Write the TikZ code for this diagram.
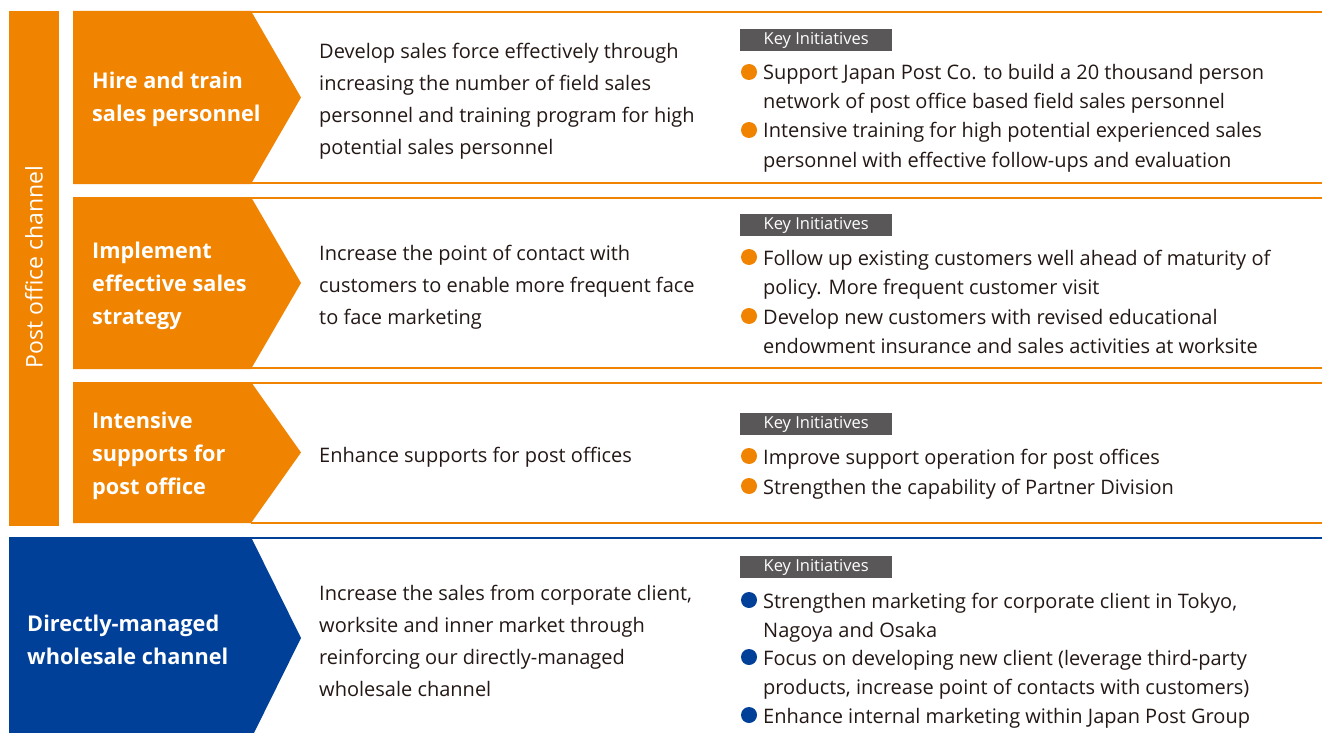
\documentclass[tikz,border=0pt]{standalone}
\usepackage{fontspec}
\setmainfont{Open Sans}
\definecolor{jporange}{HTML}{F08300}
\definecolor{jpblue}{HTML}{004098}
\definecolor{keygrey}{HTML}{595757}
\definecolor{ink}{HTML}{231815}

\begin{document}
% multi-line nodes are placed by the baseline of their last line
\begin{tikzpicture}[x=1pt,y=-1pt,
  title/.style={text=white, font=\bfseries\fontsize{21.7}{33}\selectfont, align=left, anchor=base west, inner sep=0},
  desc/.style={text=ink, font=\fontsize{20}{32}\selectfont, align=left, anchor=base west, inner sep=0},
  item/.style={text=ink, font=\fontsize{20}{29}\selectfont, align=left, anchor=base west, inner sep=0},
  keylab/.style={fill=keygrey, text=white, font=\fontsize{16.5}{16.5}\selectfont, minimum width=152pt, minimum height=21.5pt, inner sep=0, anchor=north west},
  odot/.style={circle, fill=jporange, minimum size=16pt, inner sep=0},
  bdot/.style={circle, fill=jpblue, minimum size=16pt, inner sep=0},
  orule/.style={draw=jporange, line width=2pt},
  brule/.style={draw=jpblue, line width=2.5pt}]
\useasboundingbox (0,0) rectangle (1322,733);

% ---- post office channel side bar
\fill[jporange] (9,11) rectangle (59,526);
\node[text=white, font=\fontsize{23}{26}\selectfont, rotate=90, inner sep=0] (channel) at (34,267) {Post office channel};

% ---- row rules
\draw[orule] (251,12) -- (1322,12);
\draw[orule] (251,183) -- (1322,183);
\draw[orule] (251,198) -- (1322,198);
\draw[orule] (251,368) -- (1322,368);
\draw[orule] (251,383) -- (1322,383);
\draw[orule] (251,523) -- (1322,523);
\draw[brule] (251,538) -- (1322,538);

% ---- chevrons
\fill[jporange] (73,11) -- (251,11) -- (301,97.5) -- (251,184) -- (73,184) -- cycle;
\fill[jporange] (73,197) -- (251,197) -- (301,283) -- (251,369) -- (73,369) -- cycle;
\fill[jporange] (73,382) -- (251,382) -- (301,452.5) -- (251,523) -- (73,523) -- cycle;
\fill[jpblue] (9,537) -- (251,537) -- (301,638) -- (251,739) -- (9,739) -- cycle;

% ---- row 1
\node[title] (t1) at (92,122) {Hire and train\\sales personnel};
\node[desc] (d1) at (319,154) {Develop sales force effectively through\\increasing the number of field sales\\personnel and training program for high\\potential sales personnel};
\node[keylab] (k1) at (740,29) {Key Initiatives};
\node[odot] (p1a) at (749,72) {};
\node[item] (i1a) at (763,109) {Support Japan Post Co. to build a 20 thousand person\\network of post office based field sales personnel};
\node[odot] (p1b) at (749,130) {};
\node[item] (i1b) at (763,167) {Intensive training for high potential experienced sales\\personnel with effective follow-ups and evaluation};

% ---- row 2
\node[title] (t2) at (92,324) {Implement\\effective sales\\strategy};
\node[desc] (d2) at (319,324) {Increase the point of contact with\\customers to enable more frequent face\\to face marketing};
\node[keylab] (k2) at (740,214) {Key Initiatives};
\node[odot] (p2a) at (749,257) {};
\node[item] (i2a) at (763,294) {Follow up existing customers well ahead of maturity of\\policy. More frequent customer visit};
\node[odot] (p2b) at (749,316) {};
\node[item] (i2b) at (763,353) {Develop new customers with revised educational\\endowment insurance and sales activities at worksite};

% ---- row 3
\node[title] (t3) at (92,494) {Intensive\\supports for\\post office};
\node[desc] (d3) at (319,462) {Enhance supports for post offices};
\node[keylab] (k3) at (740,413) {Key Initiatives};
\node[odot] (p3a) at (749,456) {};
\node[item] (i3a) at (763,464) {Improve support operation for post offices};
\node[odot] (p3b) at (749,486) {};
\node[item] (i3b) at (763,494) {Strengthen the capability of Partner Division};

% ---- directly-managed wholesale channel
\node[title] (t4) at (27,664) {Directly-managed\\wholesale channel};
\node[desc] (d4) at (319,696) {Increase the sales from corporate client,\\worksite and inner market through\\reinforcing our directly-managed\\wholesale channel};
\node[keylab] (k4) at (740,556) {Key Initiatives};
\node[bdot] (p4a) at (749,600) {};
\node[item] (i4a) at (763,637) {Strengthen marketing for corporate client in Tokyo,\\Nagoya and Osaka};
\node[bdot] (p4b) at (749,657) {};
\node[item] (i4b) at (763,694) {Focus on developing new client (leverage third-party\\products, increase point of contacts with customers)};
\node[bdot] (p4c) at (749,715) {};
\node[item] (i4c) at (763,723) {Enhance internal marketing within Japan Post Group};
\end{tikzpicture}
\end{document}
